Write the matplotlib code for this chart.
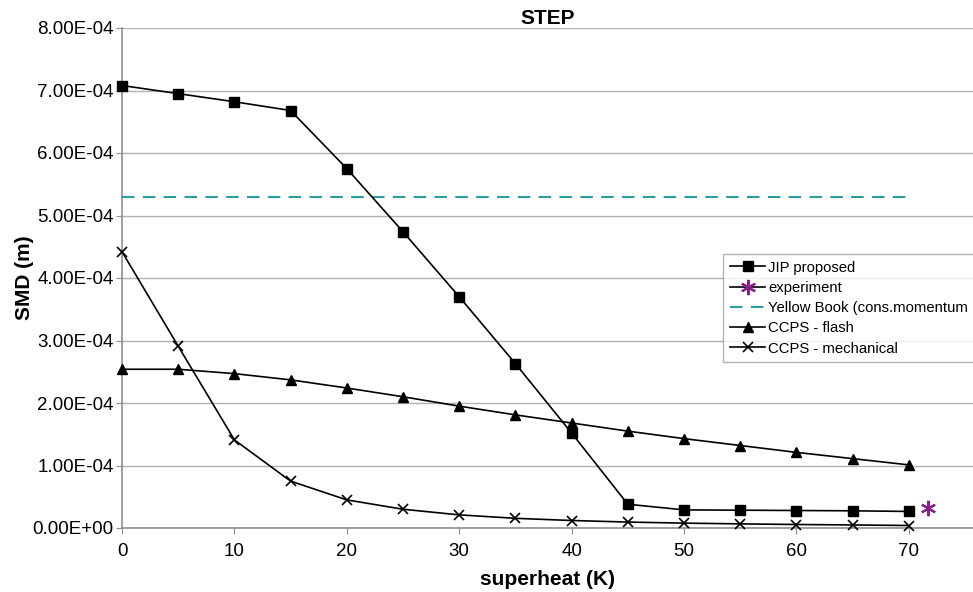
import matplotlib
matplotlib.use("Agg")
import matplotlib.pyplot as plt
from matplotlib.ticker import FuncFormatter

plt.rcParams['font.family'] = ['Liberation Sans', 'DejaVu Sans']

superheat = [0, 5, 10, 15, 20, 25, 30, 35, 40, 45, 50, 55, 60, 65, 70]
jip = [7.08e-4, 6.95e-4, 6.82e-4, 6.68e-4, 5.75e-4, 4.74e-4, 3.70e-4, 2.63e-4,
       1.52e-4, 0.38e-4, 0.29e-4, 0.285e-4, 0.28e-4, 0.275e-4, 0.265e-4]
flash = [2.54e-4, 2.54e-4, 2.47e-4, 2.37e-4, 2.24e-4, 2.10e-4, 1.95e-4, 1.81e-4,
         1.68e-4, 1.55e-4, 1.43e-4, 1.32e-4, 1.21e-4, 1.11e-4, 1.01e-4]
mech = [4.42e-4, 2.91e-4, 1.41e-4, 0.75e-4, 0.45e-4, 0.30e-4, 0.21e-4, 0.155e-4,
        0.12e-4, 0.095e-4, 0.078e-4, 0.066e-4, 0.056e-4, 0.049e-4, 0.04e-4]
exp_x = [71.7]
exp_y = [0.32e-4]
yb_x = [0, 70]
yb_y = [5.3e-4, 5.3e-4]

fig = plt.figure(figsize=(9.73, 5.92), dpi=100)
ax = fig.add_axes([122/973, 64/592, 1 - 122/973, 500/592])

ax.plot(superheat, jip, color='black', lw=1.2, marker='s', ms=7, label='JIP proposed', clip_on=False, zorder=4)
ax.plot(exp_x, exp_y, color='black', lw=1.2, marker=(6, 2, 0), ms=11, mec='#8B1C8B', mfc='#8B1C8B', mew=1.5,
        label='experiment', clip_on=False, zorder=4)
ax.plot(yb_x, yb_y, color='#2A9D9D', lw=1.5, ls=(0, (6, 4)), label='Yellow Book (cons.momentum', zorder=3)
ax.plot(superheat, flash, color='black', lw=1.2, marker='^', ms=7, label='CCPS - flash', clip_on=False, zorder=4)
ax.plot(superheat, mech, color='black', lw=1.2, marker='x', ms=7, mew=1.2, label='CCPS - mechanical', clip_on=False, zorder=4)

ax.set_xlim(0, (973 - 122) / 11.24)
ax.set_ylim(0, 8e-4)
ax.set_xticks(range(0, 71, 10))
ax.set_yticks([i * 1e-4 for i in range(9)])
ax.yaxis.set_major_formatter(FuncFormatter(lambda v, p: f"{v:.2E}"))
ax.grid(axis='y', color='#b0b0b0', lw=1)
ax.set_axisbelow(True)
for s in ['top', 'right']:
    ax.spines[s].set_visible(False)
for s in ['left', 'bottom']:
    ax.spines[s].set_color('#909090')
    ax.spines[s].set_linewidth(1.2)
ax.tick_params(axis='x', length=4, color='#909090', labelsize=13.5, pad=7)
ax.tick_params(axis='y', length=4, color='#909090', labelsize=13.5, pad=2)
ax.set_xlabel('superheat (K)', fontsize=15, fontweight='bold', labelpad=7)
ax.set_ylabel('SMD (m)', fontsize=15, fontweight='bold', labelpad=-1)
ax.set_title('STEP', fontsize=15, fontweight='bold', pad=3)

leg = ax.legend(loc='upper left', bbox_to_anchor=(723/973, (592-254)/592), bbox_transform=fig.transFigure,
                fontsize=10.7, frameon=True, fancybox=False, edgecolor='#a0a0a0', handlelength=2.4,
                borderpad=0.45, labelspacing=0.42, handletextpad=0.2, borderaxespad=0)
leg.get_frame().set_linewidth(1)

fig.savefig('out.png', dpi=100)
